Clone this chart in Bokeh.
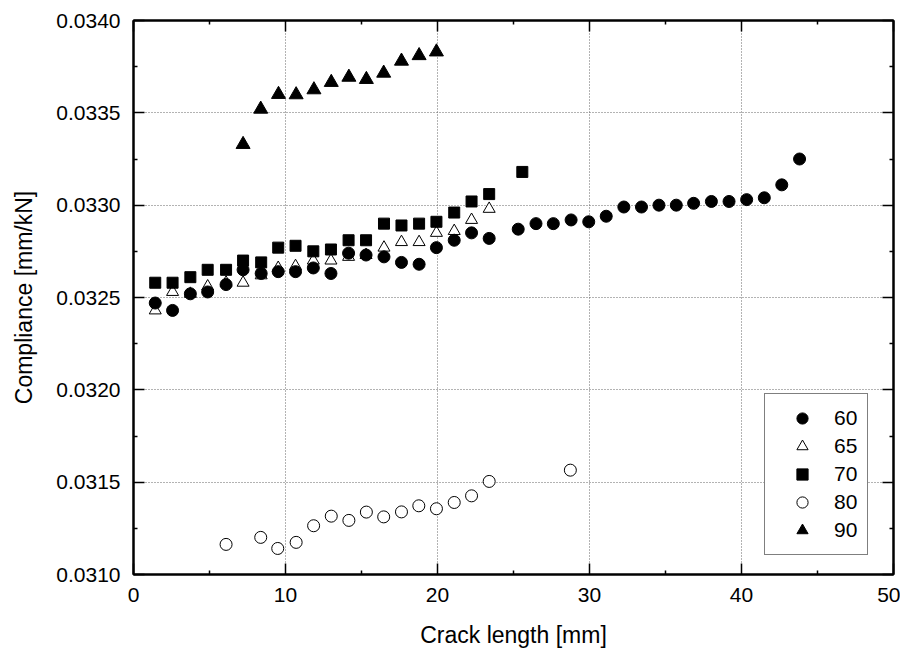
from bokeh.plotting import figure
from bokeh.models import (Range1d, FixedTicker, LinearAxis, Legend, LegendItem,
                          PrintfTickFormatter, CustomJSTickFormatter)
from bokeh.embed import file_html
from bokeh.resources import INLINE

# ---- data ----
x60 = [1.43, 2.57, 3.74, 4.88, 6.09, 7.21, 8.40, 9.52, 10.66, 11.83, 12.99, 14.15, 15.30,
       16.48, 17.63, 18.79, 19.93, 21.10, 22.24, 23.40, 25.31, 26.48, 27.62, 28.79, 29.95,
       31.10, 32.26, 33.42, 34.57, 35.71, 36.85, 38.02, 39.18, 40.34, 41.50, 42.65, 43.82]
y60 = [0.03247, 0.03243, 0.03252, 0.03253, 0.03257, 0.03265, 0.03263, 0.03264, 0.03264,
       0.03266, 0.03263, 0.03274, 0.03273, 0.03272, 0.03269, 0.03268, 0.03277, 0.03281,
       0.03285, 0.03282, 0.03287, 0.03290, 0.03290, 0.03292, 0.03291, 0.03294, 0.03299,
       0.03299, 0.03300, 0.03300, 0.03301, 0.03302, 0.03302, 0.03303, 0.03304, 0.03311, 0.03325]

x65 = [1.43, 2.57, 3.74, 4.88, 6.09, 7.21, 8.40, 9.52, 10.66, 11.83, 12.99, 14.15, 15.30,
       16.48, 17.63, 18.79, 19.93, 21.10, 22.24, 23.40]
y65 = [0.03243, 0.03253, 0.03252, 0.03256, 0.03258, 0.03258, 0.03262, 0.03266, 0.03267,
       0.03270, 0.03270, 0.03272, 0.03273, 0.03277, 0.03280, 0.03280, 0.03285, 0.03286,
       0.03292, 0.03298]

x70 = [1.43, 2.57, 3.74, 4.88, 6.09, 7.21, 8.40, 9.52, 10.66, 11.83, 12.99, 14.15, 15.30,
       16.48, 17.63, 18.79, 19.93, 21.10, 22.24, 23.40, 25.58]
y70 = [0.03258, 0.03258, 0.03261, 0.03265, 0.03265, 0.03270, 0.03269, 0.03277, 0.03278,
       0.03275, 0.03276, 0.03281, 0.03281, 0.03290, 0.03289, 0.03290, 0.03291, 0.03296,
       0.03302, 0.03306, 0.03318]

x80 = [6.09, 8.37, 9.49, 10.70, 11.85, 13.01, 14.17, 15.32, 16.46, 17.63, 18.77, 19.93,
       21.10, 22.24, 23.40, 28.74]
y80 = [0.031163, 0.031201, 0.031141, 0.031174, 0.031264, 0.031316, 0.031293, 0.031338,
       0.031312, 0.031339, 0.031372, 0.031356, 0.031390, 0.031426, 0.031504, 0.031565]

x90 = [7.21, 8.37, 9.54, 10.70, 11.87, 13.01, 14.17, 15.32, 16.46, 17.63, 18.79, 19.93]
y90 = [0.033329, 0.033520, 0.033600, 0.033598, 0.033625, 0.033665, 0.033693, 0.033681,
       0.033715, 0.033780, 0.033810, 0.033830]

series_labels = ["60", "65", "70", "80", "90"]

x_ticks = [0, 10, 20, 30, 40, 50]
x_minor = [5, 15, 25, 35, 45]
y_ticks = [0.0310, 0.0315, 0.0320, 0.0325, 0.0330, 0.0335, 0.0340]
y_minor = [0.03125, 0.03175, 0.03225, 0.03275, 0.03325, 0.03375]

FONT = "Liberation Sans"

p = figure(width=900, height=651, x_range=Range1d(0, 50), y_range=Range1d(0.0310, 0.0340),
           output_backend="svg", toolbar_location=None,
           min_border_left=133, min_border_right=7, min_border_top=20, min_border_bottom=77)

p.outline_line_color = "black"
p.outline_line_width = 2

xt = FixedTicker(ticks=x_ticks, minor_ticks=x_minor)
yt = FixedTicker(ticks=y_ticks, minor_ticks=y_minor)


def style_axis(ax):
    ax.axis_line_color = "black"
    ax.axis_line_width = 2
    ax.major_tick_in = 11
    ax.major_tick_out = 0
    ax.minor_tick_in = 4
    ax.minor_tick_out = 0
    ax.major_tick_line_width = 1.5
    ax.minor_tick_line_width = 1.5
    ax.major_tick_line_color = "black"
    ax.minor_tick_line_color = "black"
    ax.major_label_text_font = FONT
    ax.major_label_text_font_size = "21px"
    ax.major_label_text_color = "black"
    ax.axis_label_text_font = FONT
    ax.axis_label_text_font_size = "23px"
    ax.axis_label_text_font_style = "normal"
    ax.axis_label_text_color = "black"


xa = p.xaxis[0]
xa.ticker = xt
xa.axis_label = "Crack length [mm]"
style_axis(xa)
xa.major_label_standoff = 13
xa.axis_label_standoff = 17

ya = p.yaxis[0]
ya.ticker = yt
ya.formatter = PrintfTickFormatter(format="%.4f")
ya.axis_label = "Compliance [mm/kN]"
style_axis(ya)
ya.major_label_standoff = 13
ya.axis_label_standoff = 16

blank = CustomJSTickFormatter(code="return ''")
top = LinearAxis(ticker=xt, formatter=blank, major_label_standoff=0)
style_axis(top)
right = LinearAxis(ticker=yt, formatter=blank, major_label_standoff=0)
style_axis(right)
p.add_layout(top, "above")
p.add_layout(right, "right")

for g, t in ((p.xgrid[0], xt), (p.ygrid[0], yt)):
    g.ticker = t
    g.grid_line_color = "#666666"
    g.grid_line_dash = "1 2"
    g.grid_line_width = 1

r65 = p.scatter(x65, y65, marker="triangle", size=12, fill_color="white", line_color="black", line_width=1)
r60 = p.scatter(x60, y60, marker="circle", size=12, fill_color="black", line_color="black")
r70 = p.scatter(x70, y70, marker="square", size=11, fill_color="black", line_color="black")
r80 = p.scatter(x80, y80, marker="circle", size=12, fill_color="white", line_color="black", line_width=1)
r90 = p.scatter(x90, y90, marker="triangle", size=14, fill_color="black", line_color="black")

legend = Legend(items=[LegendItem(label=l, renderers=[r]) for l, r in
                       zip(series_labels, [r60, r65, r70, r80, r90])],
                location=(631, 19))
legend.border_line_color = "black"
legend.border_line_width = 1
legend.background_fill_color = "white"
legend.background_fill_alpha = 1
legend.label_text_font = FONT
legend.label_text_font_size = "21px"
legend.label_text_color = "black"
legend.glyph_height = 28
legend.glyph_width = 54
legend.label_height = 28
legend.spacing = 0
legend.padding = 10
legend.label_standoff = 5
legend.margin = 0
p.add_layout(legend)

open("out.html", "w").write(file_html(p, INLINE))
